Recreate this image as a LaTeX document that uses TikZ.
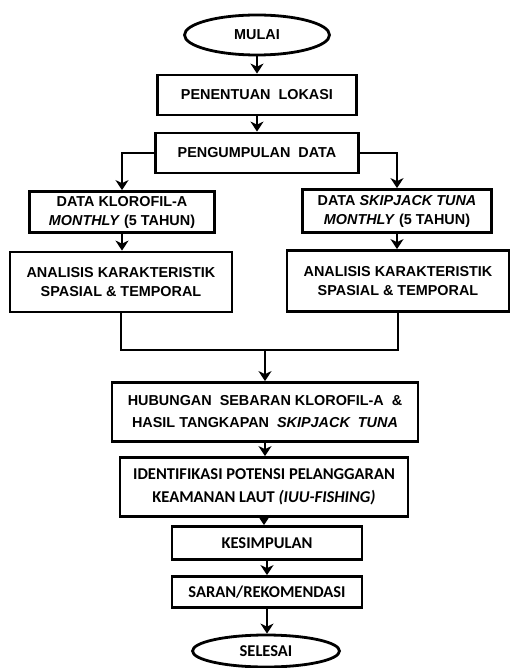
\documentclass[tikz,border=0pt]{standalone}
\usepackage{fontspec}
\setmainfont{Liberation Sans}
\newfontfamily\calibri{Carlito}
\usetikzlibrary{shapes}
\usetikzlibrary{arrows.meta}

\begin{document}
\begin{tikzpicture}[x=1pt,y=-1pt,
  kotak/.style={draw, line width=2.8pt, inner sep=0pt, align=center,
    font=\fontsize{14.4}{19}\selectfont\bfseries},
  kotakc/.style={kotak, font=\fontsize{16.5}{23}\selectfont\calibri\bfseries},
  elips/.style={draw, ellipse, line width=2.8pt, inner sep=0pt},
  panah/.style={line width=2pt, -{Stealth[length=10pt,width=13pt,inset=3pt]}}]
\useasboundingbox (0,0) rectangle (510,668);
\node[elips, minimum width=145, minimum height=40, font=\fontsize{14.4}{20}\selectfont\bfseries] (mulai) at (257,35) {MULAI};
\node[kotak, minimum width=199, minimum height=40] (lokasi) at (257,95) {PENENTUAN\ \ LOKASI};
\node[kotak, minimum width=203, minimum height=40] (kumpul) at (257,153) {PENGUMPULAN\ \ DATA};
\node[kotak, minimum width=185, minimum height=41] (klor) at (122,212) {DATA KLOROFIL-A\\\textit{MONTHLY} (5 TAHUN)};
\node[kotak, minimum width=189, minimum height=43] (skip) at (397,211) {DATA \textit{SKIPJACK TUNA}\\\textit{MONTHLY} (5 TAHUN)};
\node[kotak, minimum width=222, minimum height=60] (anal1) at (121,282) {ANALISIS KARAKTERISTIK\\SPASIAL \& TEMPORAL};
\node[kotak, minimum width=222, minimum height=61] (anal2) at (398,281) {ANALISIS KARAKTERISTIK\\SPASIAL \& TEMPORAL};
\coordinate (gabung) at (265,350);
\node[kotak, minimum width=306, minimum height=59, font=\fontsize{14.4}{22}\selectfont\bfseries] (hub) at (265,412) {HUBUNGAN\ \ SEBARAN KLOROFIL-A\ \ \&\\HASIL TANGKAPAN\ \ \textit{SKIPJACK\ \ TUNA}};
\node[kotakc, minimum width=288, minimum height=59] (iden) at (264,487) {IDENTIFIKASI POTENSI PELANGGARAN\\KEAMANAN LAUT \textit{(IUU-FISHING)}};
\node[kotakc, minimum width=190, minimum height=33] (kes) at (267,543) {KESIMPULAN};
\node[kotakc, minimum width=190, minimum height=31] (saran) at (267,592) {SARAN/REKOMENDASI};
\node[elips, minimum width=147, minimum height=32, font=\fontsize{16.5}{20}\selectfont\calibri\bfseries] (selesai) at (266,651) {SELESAI};
\foreach \a/\b in {mulai/lokasi,lokasi/kumpul,klor/anal1,skip/anal2,hub/iden,iden/kes,kes/saran,saran/selesai} {
  \draw[panah] (\a.south) -- (\a.south |- \b.north);
}
\draw[panah] (kumpul.west) -| (klor.north);
\draw[panah] (kumpul.east) -| (skip.north);
\draw[line width=2pt] (anal1.south) |- (gabung) -| (anal2.south);
\draw[panah] (gabung) -- (hub.north);
\end{tikzpicture}
\end{document}
